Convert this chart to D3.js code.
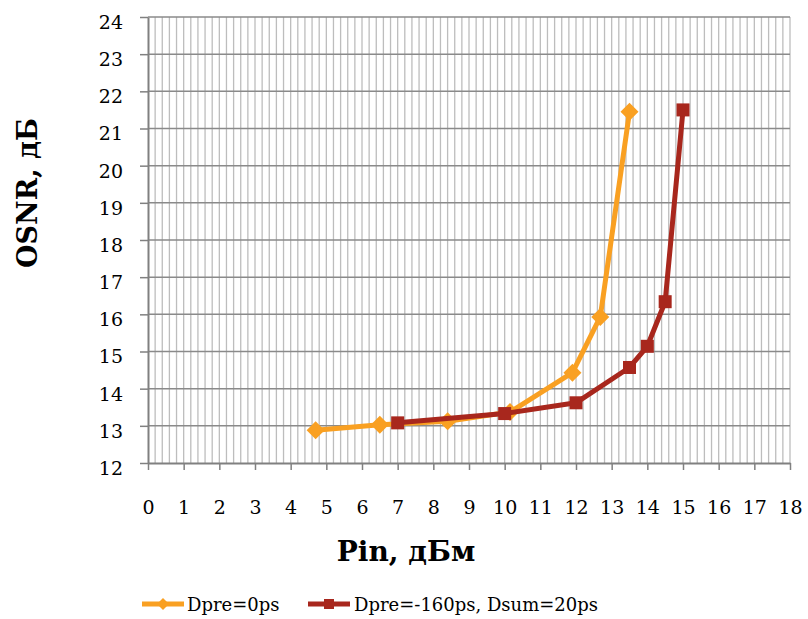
<!DOCTYPE html>
<html>
<head>
<meta charset="utf-8">
<script src="https://cdn.jsdelivr.net/npm/d3@7"></script>
<style>
  html, body { margin: 0; padding: 0; background: #fff; }
  svg { display: block; }
</style>
</head>
<body>
<svg id="chart" width="808" height="619"></svg>
<script>
// ---- data ----
const seriesNames = ["Dpre=0ps", "Dpre=-160ps, Dsum=20ps"];
const pinA = [4.7, 6.5, 8.4, 10.15, 11.9, 12.68, 13.5];
const osnrA = [12.88, 13.03, 13.12, 13.37, 14.43, 15.93, 21.45];
const pinB = [7.0, 10.0, 12.0, 13.5, 14.0, 14.5, 15.0];
const osnrB = [13.08, 13.33, 13.62, 14.57, 15.14, 16.34, 21.5];
const xTicks = d3.range(0, 19);
const yTicks = d3.range(12, 25);
const xTitle = "Pin, дБм";
const yTitle = "OSNR, дБ";

// ---- layout ----
const svg = d3.select("#chart");
const L = 148, R = 790, T = 17, B = 463;
const x = d3.scaleLinear().domain([0, 18]).range([L, R]);
const y = d3.scaleLinear().domain([12, 24]).range([B, T]);
const orange = "#F9A022", red = "#A8271D";
const serif = "DejaVu Serif";

// minor vertical grid (every 0.2)
const minor = d3.range(1, 91).map(i => i / 5);
svg.append("g").selectAll("line").data(minor).join("line")
  .attr("x1", d => x(d)).attr("x2", d => x(d))
  .attr("y1", T).attr("y2", B)
  .attr("stroke", "#bdbdbd").attr("stroke-width", 1.3);

// horizontal grid
svg.append("g").selectAll("line").data(yTicks.slice(1)).join("line")
  .attr("x1", L).attr("x2", R)
  .attr("y1", d => y(d)).attr("y2", d => y(d))
  .attr("stroke", "#8a8a8a").attr("stroke-width", 1.5);

// axes
const xAxis = svg.append("g").attr("transform", `translate(0,${B})`)
  .call(d3.axisBottom(x).tickValues(xTicks).tickSize(7).tickSizeOuter(0).tickFormat(d3.format("d")));
const yAxis = svg.append("g").attr("transform", `translate(${L},0)`)
  .call(d3.axisLeft(y).tickValues(yTicks).tickSize(8).tickSizeOuter(0).tickFormat(d3.format("d")));
[xAxis, yAxis].forEach(g => {
  g.attr("font-family", serif).attr("font-size", 19);
  g.select(".domain").attr("stroke", "#808080").attr("stroke-width", 2);
  g.selectAll(".tick line").attr("stroke", "#808080").attr("stroke-width", 1.5);
  g.selectAll(".tick text").attr("fill", "#000");
});
xAxis.selectAll(".tick text").attr("y", 0).attr("dy", 0).attr("transform", "translate(0,51)");
yAxis.selectAll(".tick text").attr("x", -25).attr("dy", "0.6em");

// axis titles
svg.append("text").attr("x", 406).attr("y", 561)
  .attr("text-anchor", "middle")
  .attr("font-family", serif).attr("font-weight", "bold").attr("font-size", 28)
  .text(xTitle);
svg.append("text").attr("transform", "translate(37,193) rotate(-90)")
  .attr("text-anchor", "middle")
  .attr("font-family", serif).attr("font-weight", "bold").attr("font-size", 27)
  .text(yTitle);

// lines
const lineGen = d3.line().x(d => x(d[0])).y(d => y(d[1]));
const dataA = pinA.map((p, i) => [p, osnrA[i]]);
const dataB = pinB.map((p, i) => [p, osnrB[i]]);

svg.append("path").datum(dataA).attr("d", lineGen)
  .attr("fill", "none").attr("stroke", orange).attr("stroke-width", 5).attr("stroke-linejoin", "round");
svg.append("g").selectAll("path").data(dataA).join("path")
  .attr("transform", d => `translate(${x(d[0])},${y(d[1])})`)
  .attr("d", "M0,-9L9,0L0,9L-9,0Z").attr("fill", orange);

svg.append("path").datum(dataB).attr("d", lineGen)
  .attr("fill", "none").attr("stroke", red).attr("stroke-width", 5).attr("stroke-linejoin", "round");
svg.append("g").selectAll("rect").data(dataB).join("rect")
  .attr("x", d => x(d[0]) - 6.5).attr("y", d => y(d[1]) - 6.5)
  .attr("width", 13).attr("height", 13).attr("fill", red);

// legend
const leg = [
  { name: seriesNames[0], color: orange, x0: 142, shape: "diamond", tx: 187 },
  { name: seriesNames[1], color: red, x0: 308, shape: "square", tx: 354 }
];
const ly = 604;
leg.forEach(l => {
  svg.append("line").attr("x1", l.x0).attr("x2", l.x0 + 42).attr("y1", ly).attr("y2", ly)
    .attr("stroke", l.color).attr("stroke-width", 5);
  if (l.shape === "diamond") {
    svg.append("path").attr("transform", `translate(${l.x0 + 21},${ly})`)
      .attr("d", "M0,-6L6,0L0,6L-6,0Z").attr("fill", l.color);
  } else {
    svg.append("rect").attr("x", l.x0 + 21 - 5).attr("y", ly - 5)
      .attr("width", 10).attr("height", 10).attr("fill", l.color);
  }
  svg.append("text").attr("x", l.tx).attr("y", ly + 7)
    .attr("font-family", serif).attr("font-size", 18).text(l.name);
});
</script>
</body>
</html>
